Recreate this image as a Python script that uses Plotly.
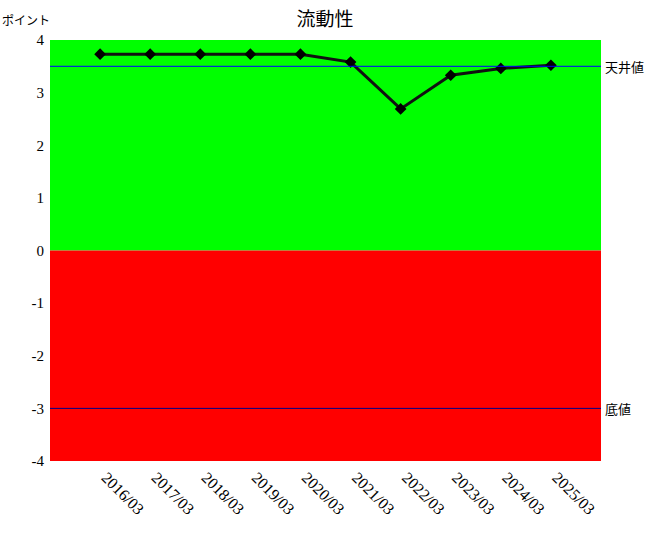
import plotly.graph_objects as go

categories = ["2016/03", "2017/03", "2018/03", "2019/03", "2020/03",
              "2021/03", "2022/03", "2023/03", "2024/03", "2025/03"]
values = [3.73, 3.73, 3.73, 3.73, 3.73, 3.58, 2.69, 3.33, 3.46, 3.52]
ceiling = 3.5
floor_v = -3.0
y_ticks = [-4, -3, -2, -1, 0, 1, 2, 3, 4]

SERIF = "Liberation Serif"
CJK = "Noto Sans CJK JP"

fig = go.Figure()
fig.add_trace(go.Scatter(
    x=list(range(len(categories))), y=values, mode="lines+markers",
    line=dict(color="#111111", width=3),
    marker=dict(symbol="diamond", size=9, color="#000000"),
    hoverinfo="skip", showlegend=False,
))

# background bands
fig.add_shape(type="rect", xref="paper", yref="y", x0=0, x1=1, y0=0, y1=4,
              fillcolor="#00ff00", line=dict(width=0), layer="below")
fig.add_shape(type="rect", xref="paper", yref="y", x0=0, x1=1, y0=-4, y1=0,
              fillcolor="#ff0000", line=dict(width=0), layer="below")
# reference lines
fig.add_shape(type="line", xref="paper", yref="y", x0=0, x1=1, y0=ceiling, y1=ceiling,
              line=dict(color="#0000ff", width=1))
fig.add_shape(type="line", xref="paper", yref="y", x0=0, x1=1, y0=floor_v, y1=floor_v,
              line=dict(color="#00008b", width=1))

fig.add_annotation(xref="paper", yref="y", x=1.004, y=ceiling, text="天井値",
                   showarrow=False, xanchor="left", yanchor="middle",
                   font=dict(family=CJK, size=13, color="#000"))
fig.add_annotation(xref="paper", yref="y", x=1.004, y=floor_v, text="底値",
                   showarrow=False, xanchor="left", yanchor="middle",
                   font=dict(family=CJK, size=13, color="#000"))
fig.add_annotation(xref="paper", yref="paper", x=-50 / 551, y=1 + 21 / 421, text="ポイント",
                   showarrow=False, xanchor="left", yanchor="middle",
                   font=dict(family=CJK, size=12, color="#000"))

fig.update_layout(
    width=650, height=540,
    margin=dict(l=50, r=49, t=40, b=79, autoexpand=False),
    paper_bgcolor="white", plot_bgcolor="white",
    title=dict(text="流動性", x=0.5, xanchor="center",
               y=1 - 19 / 540, yref="container", yanchor="middle",
               font=dict(family=CJK, size=19, color="#000")),
    xaxis=dict(range=[-1, len(categories)], tickmode="array",
               tickvals=list(range(len(categories))), ticktext=categories,
               tickangle=45, showgrid=False, zeroline=False, showline=False,
               ticks="", automargin=False, ticklabelshift=6, ticklabelstandoff=3,
               tickfont=dict(family=SERIF, size=16, color="#000"),
               fixedrange=True),
    yaxis=dict(range=[-4, 4], tickmode="array", tickvals=y_ticks,
               ticktext=[str(v) for v in y_ticks],
               showgrid=False, zeroline=False, showline=False, ticks="",
               ticklabelstandoff=5, automargin=False,
               tickfont=dict(family=SERIF, size=15, color="#000"),
               fixedrange=True),
)

fig.write_html("out.html", config={"displayModeBar": False},
               post_script="document.body.style.margin='0';")
